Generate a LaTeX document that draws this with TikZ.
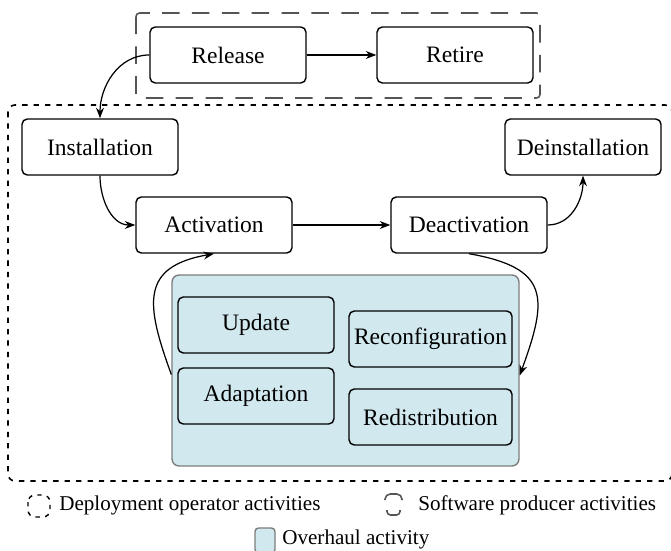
\documentclass[tikz,border=0pt]{standalone}
\usepackage{fontspec}
\setmainfont{Liberation Serif}
\newfontfamily\labelfont{Liberation Serif}
\usetikzlibrary{arrows.meta, positioning, calc}
\definecolor{cOverhaulFill}{RGB}{208,232,238}
\definecolor{cOverhaulLine}{RGB}{125,125,125}
\definecolor{cProducerLine}{RGB}{85,85,85}

\tikzset{
  activity/.style={draw, line width=0.8pt, rounded corners=3pt, minimum width=3.12cm,
    minimum height=1.12cm, inner sep=1pt, font=\labelfont\fontsize{13.4}{16}\selectfont},
  overhaulstep/.style={activity, fill=cOverhaulFill},
  overhaulframe/.style={draw=cOverhaulLine, fill=cOverhaulFill, line width=0.8pt,
    rounded corners=4pt, minimum width=6.94cm, minimum height=3.82cm, inner sep=0pt},
  flow/.style={-{Stealth[length=6pt,width=4.5pt]}, line width=0.7pt},
  producerframe/.style={draw=cProducerLine, line width=0.9pt, dash pattern=on 10pt off 7pt,
    rounded corners=2pt},
  operatorframe/.style={draw, line width=0.9pt, dash pattern=on 3pt off 3.5pt,
    rounded corners=4pt},
  legendtext/.style={anchor=west, inner sep=0pt, font=\labelfont\fontsize{12}{14}\selectfont},
}

\begin{document}
\begin{tikzpicture}[x=0.02cm, y=-0.02cm]
  \useasboundingbox (0,0) rectangle (671,550);

  % frames for the two kinds of activities
  \draw[producerframe] (136,13) rectangle (540,98);
  \draw[operatorframe] (8,105) rectangle (672,481);

  % producer side
  \node[activity] (release) at (228,55) {Release};
  \node[activity] (retire) at (455,55) {Retire};

  % operator side
  \node[activity] (installation) at (100,147) {Installation};
  \node[activity] (deinstallation) at (583,147) {Deinstallation};
  \node[activity] (activation) at (214,225) {Activation};
  \node[activity] (deactivation) at (469,225) {Deactivation};

  % overhaul block
  \node[overhaulframe] (overhaul) at (345.5,370.5) {};
  \node[overhaulstep] (update) at (256,325) {Update};
  \node[overhaulstep] (adaptation) at (256,396) {Adaptation};
  \node[overhaulstep, minimum width=3.26cm] (reconfiguration) at (430.5,339) {Reconfiguration};
  \node[overhaulstep, minimum width=3.26cm] (redistribution) at (430.5,417) {Redistribution};

  % transitions
  \draw[flow] (release.west) to[out=180,in=90] (installation.north);
  \draw[flow] (release) -- (retire);
  \draw[flow] (installation.south) to[out=-90,in=180] (activation.west);
  \draw[flow] (activation) -- (deactivation);
  \draw[flow] (deactivation.east) to[out=0,in=-90] (deinstallation.south);
  \draw[flow] (deactivation.south) to[out=-10,in=70,looseness=1.6] ($(overhaul.east)+(0,5)$);
  \draw[flow] ($(overhaul.west)+(0,4)$) to[out=110,in=190,looseness=1.5] (activation.south);

  % legend
  \draw[operatorframe, line width=0.8pt, dash pattern=on 2.5pt off 3pt] (28,495) rectangle (50,517);
  \node[legendtext] (lgoperator) at (59,505) {Deployment operator activities};
  \draw[cProducerLine, line width=0.9pt, rounded corners=3pt] (385,500) |- (402,494) -- (402,500);
  \draw[cProducerLine, line width=0.9pt, rounded corners=2pt] (387,510) |- (400,515) -- (400,510);
  \node[legendtext] (lgproducer) at (418,505) {Software producer activities};
  \draw[draw=cOverhaulLine, fill=cOverhaulFill, line width=0.8pt, rounded corners=2pt] (255,528) rectangle (275,553);
  \node[legendtext] (lgoverhaul) at (282,539) {Overhaul activity};
\end{tikzpicture}
\end{document}
